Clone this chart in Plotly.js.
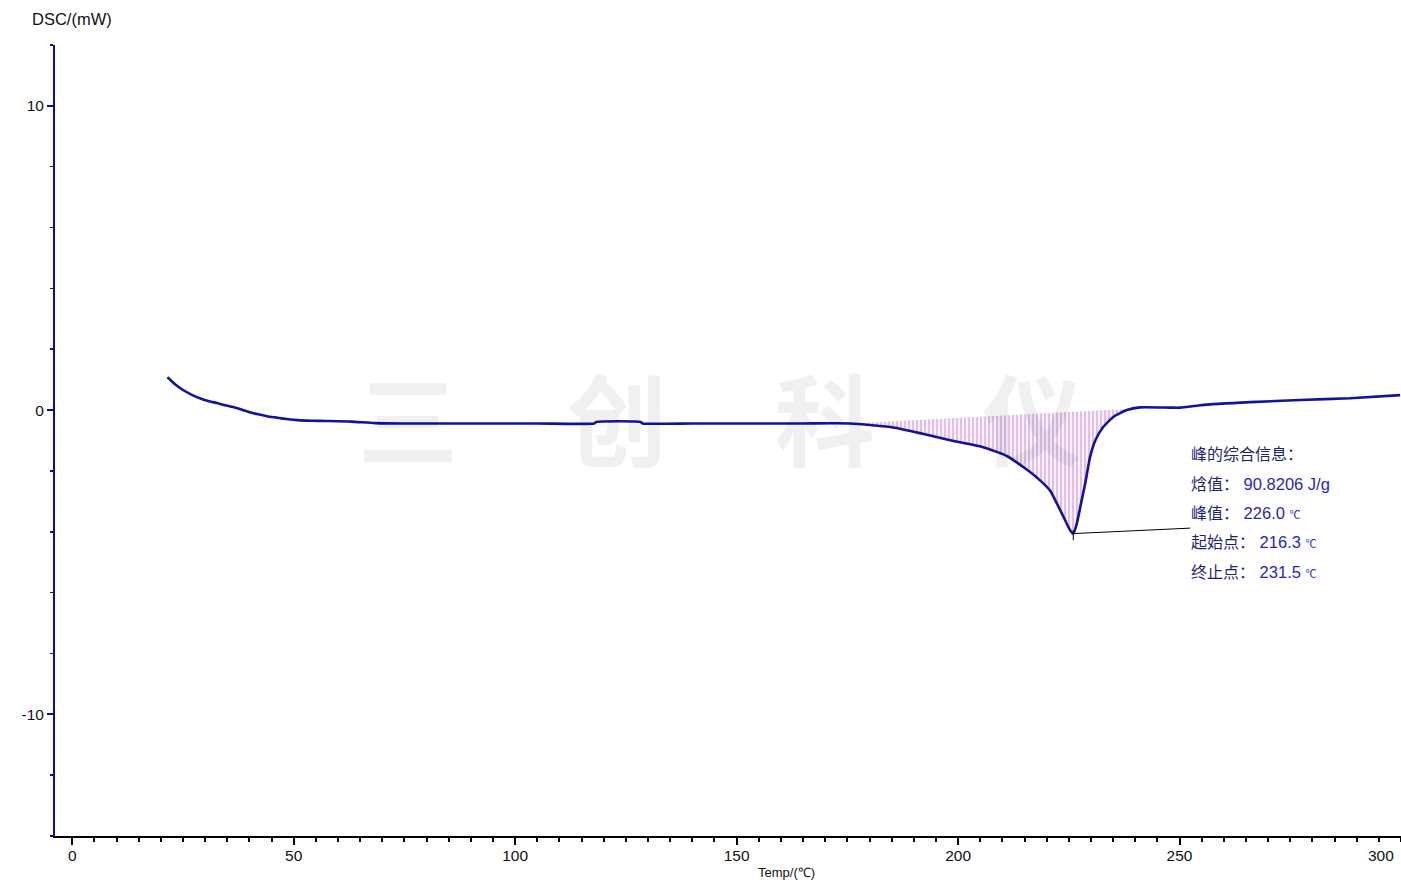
<!DOCTYPE html>
<html>
<head>
<meta charset="utf-8">
<script src="https://cdn.plot.ly/plotly-3.0.1.min.js"></script>
<style>
  html, body { margin: 0; padding: 0; background: #ffffff; }
  #chart { width: 1401px; height: 880px; }
</style>
</head>
<body>
<div id="chart"></div>
<script>
// ---- data ----
const temperature = [21.5, 23.2, 25.0, 26.9, 28.8, 30.7, 32.7, 34.5, 36.3, 38.2, 40.1, 42.0, 44.0, 45.8, 47.6, 49.2, 50.8, 54.0, 57.7, 63.0, 68.4, 74.7, 90.0, 105.0, 117.8, 118.3, 128.3, 128.8, 140.0, 150.8, 165.0, 175.6, 185.4, 192.0, 198.2, 205.7, 211.0, 214.8, 217.8, 220.8, 222.3, 223.8, 225.3, 226.0, 226.8, 227.6, 228.7, 229.8, 231.0, 232.8, 235.1, 238.1, 241.1, 247.9, 250.2, 254.7, 266.0, 277.3, 288.5, 299.8];
const dsc = [1.08, 0.85, 0.66, 0.51, 0.39, 0.30, 0.23, 0.16, 0.10, 0.02, -0.07, -0.14, -0.20, -0.24, -0.28, -0.31, -0.33, -0.35, -0.36, -0.38, -0.43, -0.44, -0.44, -0.44, -0.44, -0.39, -0.39, -0.44, -0.44, -0.44, -0.44, -0.44, -0.57, -0.78, -0.99, -1.22, -1.51, -1.88, -2.22, -2.65, -3.07, -3.51, -3.95, -4.06, -3.73, -3.18, -2.41, -1.54, -0.99, -0.55, -0.22, 0.00, 0.09, 0.08, 0.08, 0.16, 0.26, 0.33, 0.39, 0.49];

// integration baseline of the melting peak
const baselineT = [175.6, 240.4];
const baselineDSC = [-0.44, 0.05];

// peak marker and leader line to the info block
const leaderT = [226.0, 252.4];
const leaderDSC = [-4.06, -3.88];
const peakTickT = [226.0, 226.0];
const peakTickDSC = [-3.95, -4.28];

// axis ticks
const xTickVals = [0, 50, 100, 150, 200, 250];
const xTickText = ['0', '50', '100', '150', '200', '250'];
const xLastTickText = '300';
const yTickVals = [-10, 0, 10];
const yTickText = ['-10', '0', '10'];

// peak information text
const infoLabels = ['峰的综合信息：', '焓值：', '峰值：', '起始点：', '终止点：'];
const infoValues = ['', '90.8206 J/g', '226.0', '216.3', '231.5'];
const infoUnits = ['', '', '℃', '℃', '℃'];

// watermark
const watermarkChars = ['三', '创', '科', '仪'];

// ---- chart ----
const fillT = [], fillDSC = [];
for (let i = 0; i < temperature.length; i++) {
  if (temperature[i] >= baselineT[0] && temperature[i] <= baselineT[1]) {
    fillT.push(temperature[i]); fillDSC.push(dsc[i]);
  }
}

const W = 1401, H = 880;
const mL = 55, mR = 0, mT = 45, mB = 44;
const pw = W - mL - mR, ph = H - mT - mB;
const px = v => (v - mL) / pw;
const py = v => (H - mB - v) / ph;

const traces = [
  { x: baselineT, y: baselineDSC, mode: 'lines', line: { width: 0 }, hoverinfo: 'skip', showlegend: false },
  { x: fillT, y: fillDSC, mode: 'lines', line: { width: 0, shape: 'spline', smoothing: 0.5 }, fill: 'tonexty',
    fillcolor: 'rgba(243,226,246,0.7)',
    fillpattern: { shape: '|', fgcolor: 'rgba(200,140,212,0.8)', bgcolor: 'rgba(245,232,248,0.65)', size: 4, solidity: 0.3 },
    hoverinfo: 'skip', showlegend: false },
  { x: temperature, y: dsc, mode: 'lines', line: { color: '#12129c', width: 2.6, shape: 'spline', smoothing: 0.5 }, showlegend: false },
  { x: leaderT, y: leaderDSC, mode: 'lines', line: { color: '#000000', width: 1 }, showlegend: false, hoverinfo: 'skip' },
  { x: peakTickT, y: peakTickDSC, mode: 'lines', line: { color: '#000000', width: 1 }, showlegend: false, hoverinfo: 'skip' }
];

const annotations = [];
// watermark
const wmX = [408, 617, 825, 1032];
watermarkChars.forEach((c, i) => {
  annotations.push({ xref: 'paper', yref: 'paper', x: px(wmX[i]), y: py(416), xanchor: 'center', yanchor: 'middle',
    text: c, showarrow: false, font: { family: 'Noto Sans CJK SC', size: 100, weight: 'bold', color: 'rgba(0,0,0,0.06)' } });
});
// axis titles
annotations.push({ xref: 'paper', yref: 'paper', x: px(30), y: py(19), xanchor: 'left', yanchor: 'middle',
  text: 'DSC/(mW)', showarrow: false, font: { family: 'Liberation Sans, Arial', size: 16.5, color: '#111111' } });
annotations.push({ xref: 'paper', yref: 'paper', x: px(786), y: py(872), xanchor: 'center', yanchor: 'middle',
  text: 'Temp/(℃)', showarrow: false, font: { family: 'Liberation Sans, Arial', size: 13, color: '#111111' } });
annotations.push({ xref: 'paper', yref: 'paper', x: px(1381), y: py(855), xanchor: 'center', yanchor: 'middle',
  text: xLastTickText, showarrow: false, font: { family: 'Liberation Sans, Arial', size: 15.5, color: '#111111' } });
// info block
const infoY = [453, 483, 512, 541, 571];
infoLabels.forEach((lab, i) => {
  let t = '<span style="color:#1e1e78">' + lab + '</span>';
  if (infoValues[i]) {
    t += '<span style="color:#2626bd;font-family:Liberation Sans, Arial;font-size:16.5px">\u00a0' + infoValues[i] + '\u00a0</span>';
    if (infoUnits[i]) t += '<span style="color:#2626bd;font-size:11px">' + infoUnits[i] + '</span>';
  }
  annotations.push({ xref: 'paper', yref: 'paper', x: px(1189), y: py(infoY[i]), xanchor: 'left', yanchor: 'middle',
    text: t, showarrow: false, align: 'left', font: { family: 'Noto Sans CJK SC', size: 16, color: '#1e1e78' } });
});

const layout = {
  width: W, height: H,
  margin: { l: mL, r: mR, t: mT, b: mB, pad: 0 },
  paper_bgcolor: '#ffffff', plot_bgcolor: '#ffffff',
  showlegend: false,
  xaxis: {
    range: [-3.9, 300.0], tickmode: 'array', tickvals: xTickVals, ticktext: xTickText,
    ticks: 'outside', ticklen: 7, tickwidth: 2, tickcolor: '#000000', ticklabelstandoff: -3,
    showline: true, linecolor: '#000000', linewidth: 2, showgrid: false, zeroline: false,
    tickfont: { family: 'Liberation Sans, Arial', size: 15.5, color: '#111111' },
    minor: { tickmode: 'linear', tick0: 0, dtick: 5, ticks: 'outside', ticklen: 4, tickwidth: 2, tickcolor: '#000000', showgrid: false }
  },
  yaxis: {
    range: [-14, 12], tickmode: 'array', tickvals: yTickVals, ticktext: yTickText,
    ticks: 'outside', ticklen: 6, tickwidth: 2, tickcolor: '#0c0c96',
    showline: true, linecolor: '#0c0c96', linewidth: 2, showgrid: false, zeroline: false,
    tickfont: { family: 'Liberation Sans, Arial', size: 15.5, color: '#111111' },
    minor: { tickmode: 'linear', tick0: 0, dtick: 2, ticks: 'outside', ticklen: 3, tickwidth: 1.5, tickcolor: '#0c0c96', showgrid: false }
  },
  annotations: annotations
};

Plotly.newPlot('chart', traces, layout, { displayModeBar: false, staticPlot: true });
</script>
</body>
</html>
